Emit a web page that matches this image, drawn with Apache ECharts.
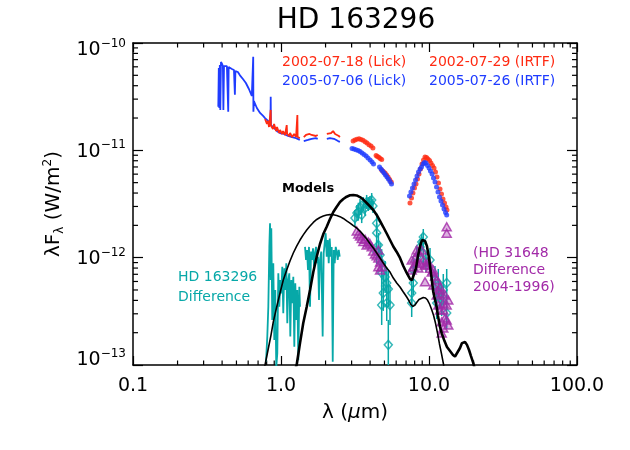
<!DOCTYPE html>
<html><head><meta charset="utf-8">
<script src="https://cdn.jsdelivr.net/npm/echarts@6/dist/echarts.min.js"></script>
<style>html,body{margin:0;padding:0;background:#fff}#c{width:630px;height:450px}</style>
</head><body><div id="c"></div>
<script>
// ---------------- data ----------------
const xTickLabels = ['0.1', '1.0', '10.0', '100.0'];
const xMinorTicks = [0.2,0.3,0.4,0.5,0.6,0.7,0.8,0.9,2,3,4,5,6,7,8,9,20,30,40,50,60,70,80,90];
const yMinorTicks = [2e-13,3e-13,4e-13,5e-13,6e-13,7e-13,8e-13,9e-13,2e-12,3e-12,4e-12,5e-12,6e-12,7e-12,8e-12,9e-12,2e-11,3e-11,4e-11,5e-11,6e-11,7e-11,8e-11,9e-11];

// 2005-07-06 Lick spectrum (blue line); null = gap
const lick2005 = [[0.377,2.55e-11],[0.380,5.85e-11],[0.383,2.48e-11],[0.386,6.24e-11],[0.389,2.38e-11],[0.393,6.65e-11],[0.397,6.47e-11],[0.400,6.37e-11],[0.405,6.1e-11],[0.408,2.38e-11],[0.412,6.1e-11],[0.418,6.24e-11],[0.425,5.97e-11],[0.431,6.1e-11],[0.438,5.97e-11],[0.440,2.29e-11],[0.443,5.97e-11],[0.452,5.85e-11],[0.466,5.73e-11],[0.481,5.6e-11],[0.488,3.3e-11],[0.492,5.48e-11],[0.511,5.37e-11],[0.528,5.0e-11],[0.553,4.62e-11],[0.579,4.24e-11],[0.607,3.73e-11],[0.635,3.21e-11],[0.649,7.45e-11],[0.651,2.29e-11],[0.656,2.88e-11],[0.687,2.48e-11],[0.722,2.23e-11],[0.757,2.09e-11],[0.780,2.0e-11],[0.817,1.88e-11],[0.849,1.76e-11],[0.852,3.16e-11],[0.855,1.72e-11],[0.898,1.62e-11],[0.940,1.51e-11],[0.985,1.45e-11],[1.047,1.42e-11],[1.117,1.36e-11],[1.188,1.33e-11],[1.264,1.30e-11],[1.34,1.25e-11],null,[1.425,1.22e-11],[1.52,1.25e-11],[1.61,1.28e-11],[1.72,1.30e-11],[1.77,1.28e-11],null,[2.04,1.28e-11],[2.14,1.30e-11],[2.28,1.28e-11],[2.43,1.22e-11],[2.50,1.2e-11]];

// 2002-07-18 Lick spectrum (red line)
const lick2002 = [[0.780,1.96e-11],[0.804,1.76e-11],[0.817,1.88e-11],[0.830,1.65e-11],[0.852,2.38e-11],[0.855,1.69e-11],[0.883,1.58e-11],[0.898,1.76e-11],[0.926,1.51e-11],[0.940,1.65e-11],[0.970,1.45e-11],[0.985,1.55e-11],[1.016,1.42e-11],[1.032,1.51e-11],[1.065,1.39e-11],[1.093,1.72e-11],[1.10,1.42e-11],[1.135,1.36e-11],[1.152,1.45e-11],[1.188,1.33e-11],[1.226,1.42e-11],[1.264,1.33e-11],[1.29,2.13e-11],[1.295,1.33e-11],[1.325,1.36e-11],[1.34,1.30e-11],null,[1.425,1.33e-11],[1.475,1.39e-11],[1.52,1.36e-11],[1.56,1.42e-11],[1.61,1.39e-11],[1.66,1.42e-11],[1.72,1.36e-11],[1.77,1.39e-11],null,[2.04,1.42e-11],[2.10,1.48e-11],[2.18,1.45e-11],[2.25,1.51e-11],[2.32,1.42e-11],[2.39,1.45e-11],[2.46,1.36e-11],[2.50,1.33e-11]];

// 2002-07-29 IRTF (red dots)
const irtf2002 = [[3.07,1.22e-11],[3.16,1.25e-11],[3.26,1.27e-11],[3.37,1.28e-11],[3.47,1.26e-11],[3.58,1.24e-11],[3.70,1.2e-11],[3.81,1.17e-11],[3.93,1.13e-11],[4.06,1.10e-11],[4.18,1.05e-11],
[4.39,8.95e-12],[4.48,8.75e-12],[4.58,8.6e-12],[4.68,8.4e-12],[4.79,8.2e-12],
[4.79,6.56e-12],[4.91,6.35e-12],[5.05,6.15e-12],[5.17,5.9e-12],[5.29,5.64e-12],[5.42,5.35e-12],[5.56,5.07e-12],
[7.44,3.23e-12],[7.62,3.60e-12],[7.79,4.0e-12],[7.98,4.46e-12],[8.17,4.86e-12],[8.36,5.41e-12],[8.56,6.02e-12],[8.76,6.7e-12],[8.97,7.46e-12],[9.18,8.13e-12],[9.40,8.67e-12],[9.62,8.57e-12],[9.84,8.3e-12],[10.08,8.04e-12],[10.31,7.62e-12],[10.56,7.22e-12],[10.81,6.84e-12],[11.06,6.28e-12],[11.32,5.64e-12],[11.59,4.96e-12],[11.87,4.36e-12],[12.15,3.92e-12],[12.43,3.52e-12],[12.73,3.23e-12],[13.03,2.96e-12],[13.23,2.78e-12]];

// 2005-07-26 IRTF (blue dots)
const irtf2005 = [[3.02,1.04e-11],[3.11,1.03e-11],[3.21,1.01e-11],[3.32,9.94e-12],[3.42,9.75e-12],[3.53,9.44e-12],[3.64,9.14e-12],[3.76,8.85e-12],[3.87,8.49e-12],[4.00,8.13e-12],[4.12,7.78e-12],[4.22,7.46e-12],
[4.63,7.0e-12],[4.74,6.7e-12],[4.85,6.41e-12],[4.97,6.15e-12],[5.08,5.9e-12],[5.20,5.64e-12],[5.32,5.41e-12],[5.45,5.13e-12],[5.58,4.86e-12],
[7.38,3.75e-12],[7.55,4.09e-12],[7.73,4.46e-12],[7.92,4.86e-12],[8.11,5.29e-12],[8.30,5.76e-12],[8.49,6.28e-12],[8.70,6.7e-12],[8.90,7.0e-12],[9.11,7.46e-12],[9.32,7.7e-12],[9.54,7.62e-12],[9.77,7.22e-12],[10.0,6.84e-12],[10.23,6.42e-12],[10.48,6.02e-12],[10.72,5.52e-12],[10.98,5.07e-12],[11.24,4.55e-12],[11.50,4.09e-12],[11.77,3.67e-12],[12.05,3.37e-12],[12.34,3.1e-12],[12.63,2.84e-12],[12.93,2.64e-12],[13.17,2.5e-12]];

// HD 163296 difference spectrum (teal line)
const diffSpectrum = [[0.792,1.07e-13],[0.808,1.84e-13],[0.821,3.49e-13],[0.834,1.26e-12],[0.843,2.09e-12],[0.852,6.19e-13],[0.860,1.88e-12],[0.873,2.63e-13],[0.887,8.86e-13],[0.901,1.71e-13],[0.915,5.0e-13],[0.929,9.6e-14],[0.944,1.28e-13],[0.959,7.15e-13],[0.974,3.49e-13],[0.989,6.19e-13],[1.005,4.65e-13],[1.020,8.24e-13],[1.036,3.03e-13],[1.053,7.96e-13],[1.069,5.0e-13],[1.086,8.86e-13],[1.103,2.45e-13],[1.120,6.19e-13],[1.138,7.15e-13],[1.156,1.84e-13],[1.174,6.19e-13],[1.192,3.76e-13],[1.211,6.65e-13],[1.230,1.48e-13],[1.249,5.77e-13],[1.269,2.63e-13],[1.289,5.0e-13],[1.309,1.11e-13],[1.330,5.36e-13],[1.344,3.49e-13],null,[1.453,1.26e-12],[1.476,9.51e-13],[1.499,1.18e-12],[1.522,7.67e-13],[1.546,1.26e-12],[1.571,3.49e-13],[1.595,1.14e-12],[1.621,9.51e-13],[1.646,1.22e-12],[1.672,8.24e-13],[1.698,1.10e-12],[1.725,1.26e-12],[1.752,8.86e-13],[1.778,1.02e-12],[1.806,4.03e-13],[1.834,9.51e-13],[1.871,1.14e-12],[1.912,1.84e-13],[1.943,1.10e-12],[1.973,1.36e-12],[2.004,1.69e-12],[2.036,1.02e-12],[2.068,1.46e-12],[2.101,8.86e-13],[2.134,1.51e-12],[2.167,1.02e-12],[2.201,1.26e-12],[2.236,1.07e-13],[2.271,1.18e-12],[2.307,8.86e-13],[2.343,1.26e-12],[2.380,1.14e-12],[2.417,9.51e-13],[2.455,1.18e-12],[2.493,1.02e-12]];

// HD 163296 difference photometry: [wavelength, flux, low, high]
const diffPoints = [[3.16,2.34e-12,1.97e-12,2.78e-12],[3.26,2.61e-12,2.20e-12,3.10e-12],[3.33,2.68e-12,2.21e-12,3.25e-12],[3.42,2.96e-12,2.50e-12,3.52e-12],[3.51,2.50e-12,2.10e-12,2.96e-12],[3.60,3.16e-12,2.72e-12,3.67e-12],[3.70,2.90e-12,2.44e-12,3.44e-12],[3.79,3.30e-12,2.84e-12,3.84e-12],[3.89,3.16e-12,2.72e-12,3.67e-12],[3.99,3.23e-12,2.78e-12,3.75e-12],[4.10,3.44e-12,2.96e-12,4.00e-12],[4.18,3.03e-12,2.61e-12,3.52e-12],[4.43,2.09e-12,1.69e-12,2.59e-12],[4.43,1.70e-12,1.37e-12,2.10e-12],[4.55,1.31e-12,1.01e-12,1.70e-12],[4.43,1.13e-12,8.73e-13,1.46e-12],[4.67,1.06e-12,8.18e-13,1.37e-12],[4.79,8.92e-13,6.61e-13,1.20e-12],[4.79,7.20e-13,5.33e-13,9.72e-13],[5.05,6.61e-13,4.68e-13,9.31e-13],[5.18,5.81e-13,4.12e-13,8.18e-13],[4.91,4.68e-13,3.19e-13,6.89e-13],[5.31,5.10e-13,3.47e-13,7.51e-13],[4.79,3.62e-13,2.36e-13,5.56e-13],[5.45,3.62e-13,2.36e-13,5.56e-13],[5.18,3.78e-13,2.57e-13,5.56e-13],[5.31,1.54e-13,1.0e-13,2.63e-13],[7.64,4.68e-13,3.62e-13,6.06e-13],[7.64,3.78e-13,2.80e-13,5.10e-13],[7.83,7.67e-13,6.19e-13,9.51e-13],[7.83,5.81e-13,4.49e-13,7.51e-13],[8.26,1.01e-12,8.18e-13,1.26e-12],[8.70,1.26e-12,1.06e-12,1.49e-12],[9.15,1.56e-12,1.31e-12,1.85e-12],[8.93,1.40e-12,1.18e-12,1.66e-12],[9.15,1.105e-12,8.92e-13,1.37e-12],[9.54,9.11e-13,7.35e-13,1.13e-12],[10.16,9.51e-13,7.35e-13,1.23e-12],[10.98,6.19e-13,4.58e-13,8.36e-13],[11.27,3.78e-13,2.68e-13,5.33e-13],[11.55,5.81e-13,4.30e-13,7.84e-13],[11.87,4.49e-13,3.32e-13,6.06e-13],[12.18,4.03e-13,2.86e-13,5.69e-13],[12.49,5.0e-13,3.55e-13,7.04e-13],[13.17,5.81e-13,4.30e-13,7.84e-13],[13.17,3.05e-13,2.16e-13,4.30e-13]];

// HD 31648 difference 2004-1996 (purple triangles)
const hd31648Diff = [[3.25,1.77e-12],[3.33,1.66e-12],[3.42,1.59e-12],[3.51,1.51e-12],[3.60,1.41e-12],[3.70,1.48e-12],[3.79,1.31e-12],[3.89,1.40e-12],[3.99,1.35e-12],[4.10,1.26e-12],[4.20,1.15e-12],[4.32,1.08e-12],[4.43,1.04e-12],[4.55,1.18e-12],[4.55,9.93e-13],[4.67,9.11e-13],[4.55,8.24e-13],[4.67,7.67e-13],[4.79,8.24e-13],
[7.64,9.51e-13],[7.64,7.67e-13],[7.83,8.24e-13],[8.04,9.86e-13],[8.26,9.11e-13],[8.26,1.18e-12],[8.47,1.13e-12],[8.47,8.01e-13],[8.70,8.86e-13],[8.93,1.18e-12],[9.15,9.51e-13],[9.40,8.55e-13],[9.65,8.55e-13],[9.89,9.11e-13],[10.16,7.96e-13],[10.43,7.35e-13],[10.69,7.67e-13],[9.40,5.97e-13],[10.98,6.75e-13],[11.27,6.19e-13],[11.55,5.0e-13],[11.87,5.36e-13],[11.27,4.49e-13],[12.18,4.65e-13],[12.49,3.76e-13],[13.17,3.62e-13],[11.87,3.25e-13],[12.49,3.25e-13],[12.83,2.74e-13],[12.18,2.52e-13],[12.49,2.21e-13],[13.17,2.63e-13],[13.50,4.03e-13],[13.50,2.36e-13],[11.55,3.62e-13],[10.69,5.56e-13],[12.18,1.99e-13],[12.83,4.49e-13],[13.17,1.94e-12],[13.17,1.69e-12]];

// Models
const modelA = [[1.224,8.6e-14],[1.276,1.0e-13],[1.344,1.60e-13],[1.414,2.46e-13],[1.492,3.49e-13],[1.571,5.0e-13],[1.653,7.35e-13],[1.743,1.02e-12],[1.834,1.34e-12],[1.931,1.66e-12],[2.036,1.94e-12],[2.143,2.29e-12],[2.257,2.66e-12],[2.380,2.98e-12],[2.504,3.30e-12],[2.636,3.52e-12],[2.779,3.70e-12],[2.926,3.81e-12],[3.080,3.84e-12],[3.247,3.80e-12],[3.418,3.67e-12],[3.598,3.48e-12],[3.794,3.23e-12],[3.994,3.0e-12],[4.204,2.78e-12],[4.433,2.50e-12],[4.666,2.20e-12],[4.912,1.93e-12],[5.179,1.68e-12],[5.452,1.46e-12],[5.739,1.27e-12],[6.052,1.13e-12],[6.370,9.93e-13],[6.706,8.36e-13],[7.07,7.20e-13],[7.44,6.33e-13],[7.68,6.19e-13],[7.92,6.46e-13],[8.17,8.01e-13],[8.43,1.04e-12],[8.70,1.28e-12],[8.97,1.46e-12],[9.15,1.52e-12],[9.40,1.43e-12],[9.69,1.28e-12],[10.0,9.93e-13],[10.31,7.20e-13],[10.69,4.79e-13],[11.27,3.47e-13],[11.50,2.86e-13],[11.87,2.26e-13],[12.24,1.94e-13],[12.73,1.67e-13],[13.23,1.47e-13],[13.87,1.35e-13],[14.53,1.24e-13],[14.99,1.20e-13],[15.46,1.24e-13],[16.20,1.44e-13],[16.71,1.60e-13],[17.05,1.65e-13],[17.51,1.64e-13],[18.06,1.54e-13],[18.64,1.38e-13],[19.22,1.21e-13],[19.93,1.04e-13],[20.46,8.98e-14]];
const modelB = [[0.756,8.6e-14],[0.780,1.0e-13],[0.817,1.38e-13],[0.856,1.90e-13],[0.887,2.52e-13],[0.935,3.47e-13],[0.985,4.68e-13],[1.036,6.19e-13],[1.093,7.67e-13],[1.150,9.31e-13],[1.211,1.105e-12],[1.276,1.28e-12],[1.344,1.46e-12],[1.414,1.63e-12],[1.492,1.81e-12],[1.571,1.97e-12],[1.653,2.13e-12],[1.743,2.27e-12],[1.834,2.37e-12],[1.931,2.44e-12],[2.036,2.50e-12],[2.143,2.52e-12],[2.257,2.51e-12],[2.380,2.47e-12],[2.504,2.41e-12],[2.636,2.32e-12],[2.779,2.20e-12],[2.926,2.10e-12],[3.080,1.99e-12],[3.247,1.89e-12],[3.418,1.77e-12],[3.598,1.63e-12],[3.794,1.49e-12],[3.994,1.35e-12],[4.204,1.23e-12],[4.433,1.105e-12],[4.666,9.93e-13],[4.912,8.92e-13],[5.179,8.01e-13],[5.452,7.35e-13],[5.739,6.46e-13],[6.052,5.81e-13],[6.370,5.33e-13],[6.706,4.79e-13],[7.07,4.30e-13],[7.33,3.95e-13],[7.55,3.66e-13],[7.79,3.51e-13],[8.04,3.62e-13],[8.30,3.86e-13],[8.56,4.07e-13],[8.83,4.21e-13],[9.15,4.25e-13],[9.47,4.21e-13],[9.77,4.03e-13],[10.08,3.70e-13],[10.39,3.32e-13],[10.72,2.92e-13],[11.06,2.46e-13],[11.41,1.99e-13],[11.77,1.57e-13],[12.15,1.27e-13],[12.49,1.04e-13],[12.83,8.6e-14]];

// ---------------- styling ----------------
const FONT = 'DejaVu Sans';
const RED = '#ff2a12', BLUE = '#1f3cff', TEAL = '#07a8a8', PURPLE = '#a22aa8';
const gap = d => d.map(p => p === null ? ['-', '-'] : p);

const chart = echarts.init(document.getElementById('c'), null, {renderer: 'canvas'});

function minorX(params, api) {
  const cs = params.coordSys;
  const x = api.coord([api.value(0), 1e-12])[0];
  const b = cs.y + cs.height, t = cs.y, L = 4.5;
  return {type: 'group', children: [
    {type: 'line', shape: {x1: x, y1: b, x2: x, y2: b - L}, style: {stroke: '#000', lineWidth: 1.2}},
    {type: 'line', shape: {x1: x, y1: t, x2: x, y2: t + L}, style: {stroke: '#000', lineWidth: 1.2}}
  ]};
}
function minorY(params, api) {
  const cs = params.coordSys;
  const y = api.coord([1, api.value(1)])[1];
  const l = cs.x, r = cs.x + cs.width, L = 5;
  return {type: 'group', children: [
    {type: 'line', shape: {x1: l, y1: y, x2: l + L, y2: y}, style: {stroke: '#000', lineWidth: 1.2}},
    {type: 'line', shape: {x1: r, y1: y, x2: r - L, y2: y}, style: {stroke: '#000', lineWidth: 1.2}}
  ]};
}
function errBar(params, api) {
  const x = api.value(0);
  const p1 = api.coord([x, api.value(2)]);
  const p2 = api.coord([x, api.value(3)]);
  return {type: 'line', shape: {x1: p1[0], y1: p1[1], x2: p2[0], y2: p2[1]}, style: {stroke: TEAL, lineWidth: 1.5}};
}

const axisLine = {show: true, lineStyle: {color: '#000', width: 1.5}};
const yLabelFmt = v => {
  const e = Math.round(Math.log10(v));
  const t = '{b|10}{s|\u2212' + Math.abs(e) + '}';
  if (e === -13) return t + '\n{g|}';
  if (e === -10) return '{g|}\n' + t;
  return t;
};
const yRich = {
  b: {fontSize: 19, fontFamily: FONT, color: '#000', lineHeight: 22, verticalAlign: 'bottom'},
  s: {fontSize: 12, fontFamily: FONT, color: '#000', lineHeight: 22, verticalAlign: 'top', padding: [0, 0, 8, 0]},
  g: {fontSize: 2, lineHeight: 12}
};

const option = {
  backgroundColor: '#fff',
  animation: false,
  grid: {left: 133, top: 43, width: 444, height: 322, containLabel: false, outerBoundsMode: 'none'},
  xAxis: [
    {type: 'log', logBase: 10, min: 0.1, max: 100, position: 'bottom',
     axisLine, splitLine: {show: false},
     axisTick: {show: true, inside: true, length: 9, lineStyle: {color: '#000', width: 1.2}},
     axisLabel: {show: true, margin: 12, fontSize: 19, fontFamily: FONT, color: '#000',
       formatter: v => xTickLabels[Math.round(Math.log10(v)) + 1], showMinLabel: true, showMaxLabel: true},
     name: '\u03bb ({i|\u03bc}m)', nameLocation: 'middle', nameGap: 38,
     nameTextStyle: {fontSize: 20, fontFamily: FONT, color: '#000', rich: {i: {fontSize: 20, fontFamily: FONT, fontStyle: 'italic', color: '#000'}}}},
    {type: 'log', logBase: 10, min: 0.1, max: 100, position: 'top',
     axisLine, splitLine: {show: false}, axisLabel: {show: false},
     axisTick: {show: true, inside: true, length: 9, lineStyle: {color: '#000', width: 1.2}}}
  ],
  yAxis: [
    {type: 'log', logBase: 10, min: 1e-13, max: 1e-10, position: 'left',
     axisLine, splitLine: {show: false},
     axisTick: {show: true, inside: true, length: 10, lineStyle: {color: '#000', width: 1.2}},
     axisLabel: {show: true, margin: 7, formatter: yLabelFmt, rich: yRich, showMinLabel: true, showMaxLabel: true},
     name: '\u03bbF{s|\u03bb} (W/m{p|2})', nameLocation: 'middle', nameGap: 58, nameRotate: 90,
     nameTextStyle: {fontSize: 20, fontFamily: FONT, color: '#000',
       rich: {s: {fontSize: 12, fontFamily: FONT, color: '#000', verticalAlign: 'bottom', lineHeight: 24},
              p: {fontSize: 12, fontFamily: FONT, color: '#000', verticalAlign: 'top', lineHeight: 24}}}},
    {type: 'log', logBase: 10, min: 1e-13, max: 1e-10, position: 'right',
     axisLine, splitLine: {show: false}, axisLabel: {show: false},
     axisTick: {show: true, inside: true, length: 10, lineStyle: {color: '#000', width: 1.2}}}
  ],
  series: [
    {type: 'custom', name: 'xminor', renderItem: minorX, data: xMinorTicks.map(v => [v, 1e-12]), silent: true, z: 1},
    {type: 'custom', name: 'yminor', renderItem: minorY, data: yMinorTicks.map(v => [1, v]), silent: true, z: 1},
    {type: 'line', name: 'Lick 2005', data: gap(lick2005), showSymbol: false, symbol: 'none', connectNulls: false,
     lineStyle: {color: BLUE, width: 1.8}, z: 2},
    {type: 'line', name: 'Lick 2002', data: gap(lick2002), showSymbol: false, symbol: 'none', connectNulls: false,
     lineStyle: {color: RED, width: 1.8}, z: 3},
    {type: 'scatter', name: 'IRTF 2002', data: irtf2002, symbol: 'circle', symbolSize: 5, itemStyle: {color: RED}, z: 3},
    {type: 'scatter', name: 'IRTF 2005', data: irtf2005, symbol: 'circle', symbolSize: 5, itemStyle: {color: BLUE}, z: 3},
    {type: 'line', name: 'HD163296 diff', data: gap(diffSpectrum), showSymbol: false, symbol: 'none', connectNulls: false,
     lineStyle: {color: TEAL, width: 1.8}, z: 4},
    {type: 'custom', name: 'errbars', renderItem: errBar, data: diffPoints, z: 4, clip: true},
    {type: 'scatter', name: 'diff pts', data: diffPoints.map(p => [p[0], p[1]]), symbol: 'diamond', symbolSize: [8, 9],
     itemStyle: {color: 'rgba(0,0,0,0)', borderColor: TEAL, borderWidth: 1.5}, z: 5},
    {type: 'scatter', name: 'HD31648 diff', data: hd31648Diff, symbol: 'triangle', symbolSize: [9, 8],
     itemStyle: {color: 'rgba(162,42,168,0.45)', borderColor: PURPLE, borderWidth: 1.5}, z: 5},
    {type: 'line', name: 'model A', data: modelA, showSymbol: false, symbol: 'none', lineStyle: {color: '#000', width: 2.6}, z: 6},
    {type: 'line', name: 'model B', data: modelB, showSymbol: false, symbol: 'none', lineStyle: {color: '#000', width: 1.6}, z: 6}
  ],
  graphic: [
    {type: 'text', x: 356, y: 21, style: {text: 'HD 163296', fill: '#000', font: '28px "DejaVu Sans"', textAlign: 'center', textVerticalAlign: 'middle'}},
    {type: 'text', x: 282, y: 62, style: {text: '2002-07-18 (Lick)', fill: RED, font: '14px "DejaVu Sans"', textVerticalAlign: 'middle'}},
    {type: 'text', x: 429, y: 62, style: {text: '2002-07-29 (IRTF)', fill: RED, font: '14px "DejaVu Sans"', textVerticalAlign: 'middle'}},
    {type: 'text', x: 282, y: 81, style: {text: '2005-07-06 (Lick)', fill: BLUE, font: '14px "DejaVu Sans"', textVerticalAlign: 'middle'}},
    {type: 'text', x: 429, y: 81, style: {text: '2005-07-26 (IRTF)', fill: BLUE, font: '14px "DejaVu Sans"', textVerticalAlign: 'middle'}},
    {type: 'text', x: 282, y: 189, style: {text: 'Models', fill: '#000', font: 'bold 13px "DejaVu Sans"', textVerticalAlign: 'middle'}},
    {type: 'text', x: 178, y: 277, style: {text: 'HD 163296', fill: TEAL, font: '14px "DejaVu Sans"', textVerticalAlign: 'middle'}},
    {type: 'text', x: 178, y: 297, style: {text: 'Difference', fill: TEAL, font: '14px "DejaVu Sans"', textVerticalAlign: 'middle'}},
    {type: 'text', x: 473, y: 253, style: {text: '(HD 31648', fill: PURPLE, font: '14px "DejaVu Sans"', textVerticalAlign: 'middle'}},
    {type: 'text', x: 473, y: 270, style: {text: 'Difference', fill: PURPLE, font: '14px "DejaVu Sans"', textVerticalAlign: 'middle'}},
    {type: 'text', x: 473, y: 287, style: {text: '2004-1996)', fill: PURPLE, font: '14px "DejaVu Sans"', textVerticalAlign: 'middle'}}
  ]
};
chart.setOption(option);
</script>
</body></html>
